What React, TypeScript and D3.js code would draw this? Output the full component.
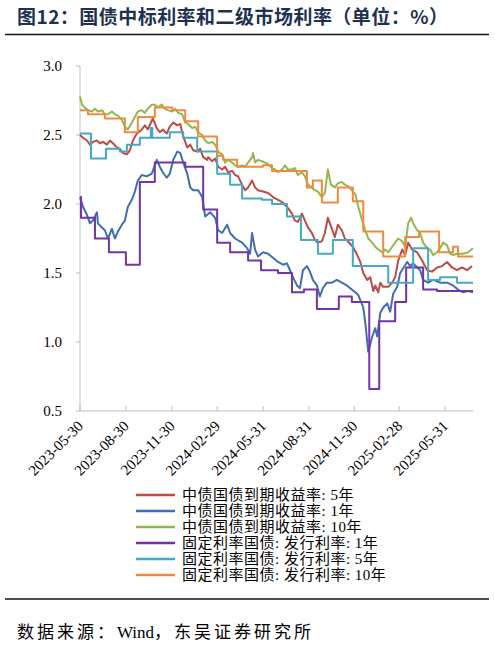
import React from "react";
import * as d3 from "d3";

const START = "2023-05-30";
const END_DAY = 788;
const yTicks = [0.5, 1.0, 1.5, 2.0, 2.5, 3.0];
const xTickLabels = [
  "2023-05-30", "2023-08-30", "2023-11-30", "2024-02-29", "2024-05-31",
  "2024-08-31", "2024-11-30", "2025-02-28", "2025-05-31",
];

// [days since START, yield %]
const cgb5y: [number, number][] = [
  [0,2.50],[6,2.48],[14,2.46],[20,2.43],[26,2.45],[34,2.46],[40,2.44],[46,2.45],[54,2.43],[60,2.46],[66,2.44],[74,2.41],[80,2.40],[86,2.37],[94,2.36],[100,2.39],[106,2.46],[114,2.51],[124,2.54],[130,2.57],[136,2.54],[146,2.62],[154,2.55],[160,2.52],[166,2.54],[174,2.51],[180,2.56],[187,2.59],[195,2.57],[201,2.58],[207,2.49],[215,2.41],[221,2.43],[227,2.39],[235,2.38],[241,2.40],[247,2.34],[255,2.32],[257,2.34],[265,2.31],[271,2.33],[277,2.27],[285,2.25],[291,2.27],[297,2.23],[305,2.24],[311,2.21],[317,2.20],[325,2.14],[331,2.10],[337,2.12],[345,2.17],[351,2.12],[357,2.10],[367,2.09],[377,2.08],[387,2.05],[397,2.03],[407,2.01],[417,1.97],[425,1.93],[431,1.88],[437,1.87],[445,1.93],[451,1.88],[457,1.83],[465,1.79],[471,1.74],[477,1.72],[485,1.73],[491,1.79],[497,1.90],[503,1.84],[511,1.76],[517,1.85],[525,1.81],[531,1.75],[537,1.73],[547,1.69],[556,1.63],[562,1.58],[568,1.50],[576,1.45],[582,1.47],[588,1.37],[592,1.41],[598,1.36],[602,1.43],[608,1.40],[618,1.40],[626,1.43],[632,1.47],[638,1.59],[646,1.67],[652,1.63],[658,1.72],[666,1.67],[676,1.65],[686,1.59],[696,1.52],[706,1.51],[716,1.54],[726,1.55],[736,1.58],[746,1.54],[756,1.52],[766,1.54],[776,1.52],[786,1.55],
];
const cgb1y: [number, number][] = [
  [0,2.05],[6,1.98],[14,1.92],[20,1.86],[26,1.88],[34,1.94],[36,1.86],[44,1.83],[50,1.81],[56,1.75],[64,1.82],[70,1.75],[76,1.80],[84,1.85],[90,1.88],[96,1.98],[104,2.03],[110,2.09],[116,2.17],[124,2.21],[134,2.20],[144,2.22],[154,2.32],[160,2.27],[166,2.23],[174,2.19],[180,2.22],[187,2.32],[195,2.38],[201,2.37],[207,2.30],[215,2.22],[221,2.12],[227,2.10],[237,2.10],[245,2.05],[251,1.91],[261,1.94],[271,1.90],[277,1.81],[285,1.79],[295,1.85],[301,1.79],[311,1.75],[325,1.72],[335,1.68],[341,1.64],[345,1.79],[351,1.67],[357,1.62],[367,1.65],[377,1.64],[387,1.61],[397,1.58],[407,1.56],[415,1.57],[421,1.52],[427,1.47],[435,1.41],[441,1.39],[447,1.52],[455,1.55],[461,1.51],[467,1.45],[475,1.41],[481,1.33],[487,1.39],[495,1.43],[505,1.43],[515,1.45],[525,1.43],[535,1.41],[545,1.38],[552,1.36],[558,1.34],[568,1.25],[572,1.14],[578,0.93],[586,1.04],[592,1.10],[596,1.04],[602,1.21],[608,1.25],[616,1.28],[622,1.22],[628,1.35],[636,1.40],[642,1.50],[656,1.58],[662,1.55],[668,1.57],[682,1.52],[688,1.45],[698,1.43],[708,1.45],[722,1.43],[736,1.43],[748,1.41],[758,1.38],[768,1.36],[778,1.37],[788,1.36],
];
const cgb10y: [number, number][] = [
  [0,2.78],[4,2.72],[10,2.70],[16,2.68],[24,2.67],[30,2.69],[36,2.67],[44,2.68],[50,2.65],[56,2.65],[64,2.67],[70,2.65],[76,2.64],[84,2.61],[90,2.56],[96,2.54],[104,2.59],[110,2.63],[116,2.67],[124,2.68],[130,2.66],[136,2.69],[144,2.72],[150,2.72],[156,2.70],[164,2.72],[170,2.69],[176,2.68],[185,2.67],[191,2.69],[197,2.66],[205,2.65],[211,2.59],[217,2.58],[225,2.55],[231,2.56],[237,2.52],[245,2.50],[251,2.46],[257,2.44],[265,2.45],[271,2.43],[277,2.38],[285,2.36],[291,2.30],[297,2.32],[305,2.30],[311,2.28],[317,2.27],[325,2.28],[331,2.27],[337,2.30],[345,2.34],[347,2.37],[351,2.30],[357,2.32],[365,2.31],[371,2.30],[377,2.29],[385,2.26],[391,2.25],[397,2.23],[405,2.25],[411,2.28],[417,2.25],[425,2.25],[431,2.26],[437,2.21],[445,2.23],[451,2.20],[457,2.14],[465,2.12],[471,2.10],[477,2.09],[485,2.05],[491,2.08],[497,2.25],[503,2.14],[511,2.12],[517,2.15],[525,2.16],[531,2.14],[537,2.13],[545,2.10],[552,2.07],[558,1.98],[566,1.88],[572,1.81],[578,1.75],[586,1.72],[592,1.69],[598,1.67],[606,1.65],[612,1.67],[618,1.65],[626,1.69],[632,1.72],[638,1.75],[646,1.73],[652,1.69],[658,1.86],[664,1.90],[668,1.86],[676,1.81],[682,1.79],[688,1.72],[696,1.68],[702,1.67],[708,1.63],[716,1.65],[722,1.68],[728,1.72],[736,1.70],[742,1.64],[748,1.63],[756,1.64],[762,1.64],[768,1.64],[778,1.65],[788,1.68],
];
// fixed-rate government bond issuance rates (step series: value holds until next change)
const issue1y: [number, number][] = [
  [0,2.05],[2,1.90],[30,1.75],[58,1.65],[92,1.56],[120,2.16],[150,2.30],[211,2.27],[247,1.96],[275,1.72],[301,1.65],[337,1.59],[363,1.52],[397,1.50],[425,1.36],[449,1.38],[475,1.24],[519,1.33],[545,1.29],[580,0.66],[600,1.15],[632,1.29],[654,1.54],[688,1.38],[716,1.37],
];
const issue5y: [number, number][] = [
  [0,2.51],[22,2.33],[52,2.40],[80,2.38],[94,2.43],[120,2.48],[142,2.55],[145,2.48],[180,2.52],[207,2.48],[235,2.38],[275,2.22],[301,2.14],[325,2.04],[365,2.03],[385,2.00],[415,1.91],[443,1.74],[477,1.64],[507,1.74],[547,1.55],[618,1.43],[668,1.68],[698,1.45],[722,1.47],[756,1.43],
];
const issue10y: [number, number][] = [
  [0,2.68],[16,2.65],[50,2.62],[90,2.52],[116,2.63],[150,2.70],[185,2.68],[211,2.60],[237,2.49],[275,2.35],[287,2.32],[315,2.27],[367,2.28],[385,2.24],[455,2.12],[467,2.17],[485,2.01],[517,2.12],[547,2.02],[568,1.80],[608,1.62],[652,1.76],[680,1.80],[720,1.65],[748,1.69],[758,1.62],
];

const seriesNames = [
  "中债国债到期收益率: 5年",
  "中债国债到期收益率: 1年",
  "中债国债到期收益率: 10年",
  "固定利率国债: 发行利率: 1年",
  "固定利率国债: 发行利率: 5年",
  "固定利率国债: 发行利率: 10年",
];
const seriesColors = ["#BE4B48", "#3F6EB5", "#93B74E", "#7235A6", "#45A9C4", "#EF8B3D"];
const seriesData = [cgb5y, cgb1y, cgb10y, issue1y, issue5y, issue10y];
const seriesStep = [false, false, false, true, true, true];

const W = 495, H = 646;
const serif = "'Liberation Serif', 'Noto Sans CJK SC', serif";
const cjk = "'Liberation Serif', 'Noto Sans CJK SC', sans-serif";

export default function App() {
  const parse = d3.timeParse("%Y-%m-%d");
  const start = parse(START)!;
  const x = d3.scaleTime().domain([start, d3.timeDay.offset(start, END_DAY)]).range([80, 473]);
  const y = d3.scaleLinear().domain([0.5, 3.0]).range([411, 66]);

  const paths = seriesData.map((data, i) => {
    const pts: [number, number][] = seriesStep[i]
      ? [...data, [END_DAY, data[data.length - 1][1]]]
      : data;
    const gen = d3
      .line<[number, number]>()
      .x((d) => x(d3.timeDay.offset(start, d[0])))
      .y((d) => y(d[1]))
      .curve(seriesStep[i] ? d3.curveStepAfter : d3.curveLinear);
    return gen(pts) || "";
  });

  return (
    <svg width={W} height={H} style={{ position: "absolute", left: 0, top: 0, background: "#fff" }}>
      <rect width={W} height={H} fill="#fff" />
      <text x={17} y={24} fontFamily="'Noto Sans CJK SC', sans-serif" fontWeight="bold" fontSize={19}
        fill="#1E3152" textLength={431} lengthAdjust="spacing">
        图12：国债中标利率和二级市场利率（单位：%）
      </text>
      <line x1={5} x2={489} y1={34.5} y2={34.5} stroke="#111" strokeWidth={1.6} />

      {/* axes */}
      <line x1={80} x2={80} y1={66} y2={411} stroke="#BFBFBF" strokeWidth={1} />
      <line x1={80} x2={473} y1={411} y2={411} stroke="#BFBFBF" strokeWidth={1} />
      {yTicks.map((t) => (
        <g key={t}>
          <line x1={76} x2={80} y1={y(t)} y2={y(t)} stroke="#BFBFBF" />
          <text x={62} y={y(t)} dy="0.35em" textAnchor="end" fontFamily={serif} fontSize={15} fill="#000">
            {d3.format(".1f")(t)}
          </text>
        </g>
      ))}
      {xTickLabels.map((s) => {
        const px = x(parse(s)!);
        return (
          <g key={s}>
            <line x1={px} x2={px} y1={406} y2={411} stroke="#BFBFBF" />
            <text transform={`translate(${px + 4},427) rotate(-45)`} textAnchor="end"
              fontFamily={serif} fontSize={15} fill="#000">
              {s}
            </text>
          </g>
        );
      })}

      {/* series */}
      {paths.map((d, i) => (
        <path key={i} d={d} fill="none" stroke={seriesColors[i]} strokeWidth={2}
          strokeLinejoin="round" />
      ))}

      {/* legend */}
      {seriesNames.map((n, i) => {
        const ly = 495 + i * 16;
        return (
          <g key={n}>
            <line x1={136} x2={175} y1={ly} y2={ly} stroke={seriesColors[i]} strokeWidth={2.5} />
            <text x={182} y={ly} dy="0.36em" fontFamily={cjk} fontSize={15} letterSpacing={0.5} fill="#000">{n}</text>
          </g>
        );
      })}

      <line x1={5} x2={489} y1={599} y2={599} stroke="#111" strokeWidth={1.6} />
      <text x={17} y={638} fontFamily={cjk} fontSize={17} fill="#000">
        <tspan letterSpacing={3}>数据来源：</tspan>
        <tspan letterSpacing={0}>Wind</tspan>
        <tspan letterSpacing={3}>，东吴证券研究所</tspan>
      </text>
    </svg>
  );
}
